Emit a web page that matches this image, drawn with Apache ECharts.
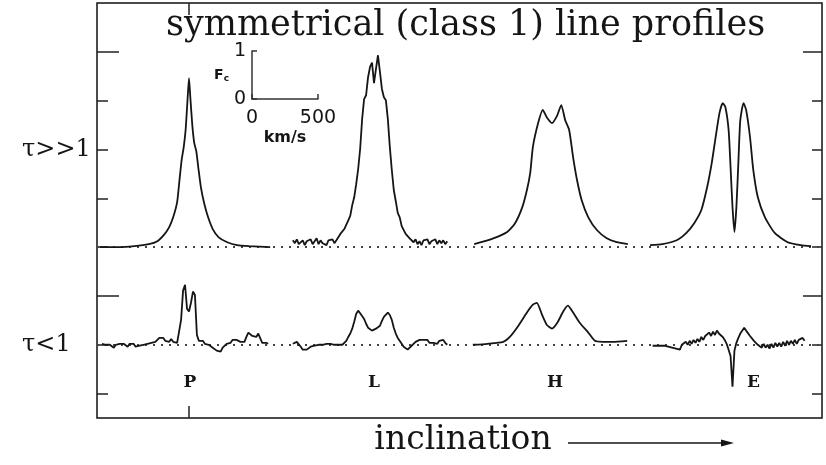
<!DOCTYPE html>
<html><head><meta charset="utf-8">
<script src="https://cdn.jsdelivr.net/npm/echarts@6/dist/echarts.min.js"></script>
<style>html,body{margin:0;padding:0;background:#fff}#c{width:826px;height:465px}</style>
</head><body><div id="c"></div>
<script>
// ---------- texts ----------
const TITLE = 'symmetrical (class 1) line profiles';
const X_NAME = 'inclination';
const CLASSES = ['P', 'L', 'H', 'E'];
const ROW_LABELS = ['τ>>1', 'τ<1'];
const SCALE_X_NAME = 'km/s';

// ---------- smooth profiles: velocity (km/s) and continuum-subtracted flux (Fc) ----------
const P_TOP_V = [-675, -530, -415, -305, -240, -190, -150, -120, -90, -70, -55, -40, -25, -10, 0, 10, 25, 40, 55, 70, 90, 115, 145, 180, 225, 290, 365, 455, 615];
const P_TOP_F = [0, 0, 0.02, 0.06, 0.12, 0.25, 0.41, 0.61, 0.92, 1.43, 1.80, 2.05, 2.42, 3.07, 3.46, 3.07, 2.50, 2.13, 1.97, 1.64, 1.23, 0.90, 0.61, 0.37, 0.20, 0.10, 0.04, 0.02, 0];

const H_TOP_V = [-590, -445, -340, -280, -225, -190, -165, -145, -105, -70, -40, 0, 40, 70, 100, 130, 160, 190, 225, 275, 340, 415, 490, 575];
const H_TOP_F = [0.06, 0.18, 0.31, 0.49, 0.82, 1.17, 1.52, 2.05, 2.54, 2.81, 2.66, 2.54, 2.70, 2.91, 2.60, 2.40, 1.84, 1.37, 0.96, 0.61, 0.35, 0.18, 0.10, 0.06];

const H_BOT_V = [-600, -490, -370, -320, -260, -190, -145, -115, -75, -40, 0, 40, 85, 120, 160, 210, 275, 325, 385, 460, 570];
const H_BOT_F = [0, 0.02, 0.06, 0.16, 0.37, 0.66, 0.82, 0.86, 0.61, 0.41, 0.33, 0.45, 0.68, 0.80, 0.66, 0.45, 0.25, 0.08, 0.06, 0.06, 0.08];

const E_TOP_V = [-635, -540, -430, -355, -295, -240, -195, -160, -130, -100, -75, -55, -30, -15, 0, 15, 30, 45, 60, 85, 105, 135, 160, 195, 250, 325, 425, 525, 605];
const E_TOP_F = [0.04, 0.06, 0.14, 0.29, 0.49, 0.76, 1.23, 1.72, 2.25, 2.75, 2.95, 2.87, 2.40, 1.64, 0.82, 0.31, 0.82, 1.72, 2.60, 2.95, 2.81, 2.25, 1.58, 1.02, 0.61, 0.29, 0.10, 0.04, 0.02];

// ---------- noisy profiles, sampled on a common velocity grid (km/s) ----------
const V_GRID = [-660, -645, -630, -615, -600, -585, -570, -555, -540, -525, -510, -495, -480, -465, -450, -435, -420, -405, -390, -375, -360, -345, -330, -315, -300, -285, -270, -255, -240, -225, -210, -195, -180, -165, -150, -135, -120, -105, -90, -75, -60, -45, -30, -15, 0, 15, 30, 45, 60, 75, 90, 105, 120, 135, 150, 165, 180, 195, 210, 225, 240, 255, 270, 285, 300, 315, 330, 345, 360, 375, 390, 405, 420, 435, 450, 465, 480, 495, 510, 525, 540, 555, 570, 585, 600];

const L_TOP_F = [null, null, null,
  0.14, 0.08, 0.16, 0.06, 0.10, 0.14, 0.04, 0.12, 0.08, 0.16,
  0.06, 0.12, 0.18, 0.06, 0.14, 0.08, 0.12, 0.04, 0.14, 0.10,
  0.16, 0.08, 0.14, 0.12, 0.27, 0.25, 0.37, 0.39, 0.55, 0.64,
  0.86, 1.02, 1.29, 1.60, 2.01, 2.62, 3.03, 3.11, 3.48, 3.69,
  3.78, 3.36, 3.65, 3.93, 3.59, 3.24, 3.07, 3.01, 2.62, 2.05,
  1.58, 1.17, 0.94, 0.70, 0.61, 0.43, 0.41, 0.27, 0.31, 0.18,
  0.20, 0.10, 0.16, 0.06, 0.12, 0.04, 0.14, 0.10, 0.16, 0.06,
  0.12, 0.08, 0.16, 0.06, 0.14, 0.08, 0.14, 0.06, 0.12,
  null, null, null];

const P_BOT_F = [
  0.02, -0.02, 0, 0.04, 0, 0.02, -0.06, 0, -0.02, 0.02,
  -0.02, 0.02, 0, -0.04, 0.02, -0.02, 0.02, -0.04, -0.04, -0.02,
  -0.04, 0, -0.02, 0.02, 0, 0.04, 0.02, 0.06, 0.08, 0.14,
  0.10, 0.14, 0.08, 0.12, 0.06, 0.12, 0.06, 0.08, 0.04, 0.06,
  0.51, 1.11, 1.23, 0.74, 0.68, 0.86, 1.09, 1.02, 0.20, 0.08,
  0.04, 0.08, 0.02, 0.04, 0, -0.02, -0.06, -0.10, -0.12, -0.16,
  -0.14, -0.06, -0.02, 0.02, 0.06, 0.04, 0.10, 0.06, 0.10, 0.10,
  0.06, 0.08, 0.06, 0.16, 0.25, 0.23, 0.18, 0.18, 0.16, 0.23,
  0.20, 0.04, 0, 0.04, 0.02];

const L_BOT_F = [null, null, null,
  0.02, 0.06, 0.06, 0.04, -0.04, -0.10, -0.14, -0.10, -0.08, -0.04,
  -0.06, -0.02, -0.04, 0, -0.04, 0, -0.04, 0.02, -0.02, 0.02,
  -0.02, 0, -0.04, 0, -0.04, 0, 0.04, 0.08, 0.16, 0.23,
  0.33, 0.47, 0.63, 0.70, 0.66, 0.59, 0.53, 0.43, 0.35, 0.33,
  0.29, 0.29, 0.33, 0.35, 0.39, 0.49, 0.57, 0.61, 0.66, 0.61,
  0.51, 0.35, 0.23, 0.14, 0.10, 0.02, -0.04, -0.08, -0.10, -0.06,
  -0.02, 0.02, 0.06, 0.04, 0.10, 0.06, 0.10, 0.06, 0.10, 0.04,
  0.08, 0.04, 0.06, 0.02, 0.08, 0.06, 0.10, 0.04, 0,
  null, null, null];

const E_BOT_F = [null, null, null,
  -0.02, -0.02, -0.02, -0.02, -0.02, -0.02, -0.02, -0.02, -0.04, -0.02,
  -0.06, -0.02, -0.08, -0.04, -0.10, 0, -0.04, 0.06, 0, 0.08,
  0.02, 0.10, 0.04, 0.12, 0.06, 0.16, 0.10, 0.18, 0.14, 0.25,
  0.18, 0.27, 0.20, 0.29, 0.23, 0.20, 0.16, 0.10, 0.02, -0.10,
  -0.23, -0.86, -0.12, 0.04, 0.14, 0.23, 0.27, 0.35, 0.29, 0.31,
  0.18, 0.20, 0.08, 0.12, 0, 0.04, -0.06, 0.02, -0.06, 0,
  -0.08, 0.02, -0.06, 0.04, -0.04, 0.04, -0.04, 0.06, -0.02, 0.08,
  0, 0.08, 0.02, 0.10, 0.02, 0.10, 0.06, 0.14, 0.08,
  null, null, null];

// ---------- layout ----------
const FRAME = {left: 97, top: 3, width: 725, height: 415};
const COL_CENTER = [189, 374, 552, 734];
const COL_HALF = 95;          // px
const V_HALF = 720;           // km/s across COL_HALF px (500 km/s = 66 px)
const INK = '#151515';

function pairs(v, f) {
  const out = [];
  for (let i = 0; i < v.length; i++) if (f[i] !== null) out.push([v[i], f[i]]);
  return out;
}

const grids = [
  {left: FRAME.left, top: FRAME.top, width: FRAME.width, height: FRAME.height, show: true,
   borderColor: '#111', borderWidth: 1.5, backgroundColor: 'transparent'}
];
COL_CENTER.forEach(c => grids.push({left: c - COL_HALF, top: FRAME.top, width: 2 * COL_HALF, height: FRAME.height}));
grids.push({left: 252, top: 51, width: 66, height: 48}); // inset scale

const hidden = {axisLine: {show: false, onZero: false}, axisTick: {show: false}, axisLabel: {show: false}, splitLine: {show: false}};

const xAxes = [
  Object.assign({}, hidden, {gridIndex: 0, type: 'value', min: 0, max: 1, name: X_NAME, nameLocation: 'middle', nameGap: 6,
    nameTextStyle: {fontFamily: 'DejaVu Serif', fontSize: 33, color: INK, padding: [0, 0, 0, 7]}})
];
const LABEL_PAD = [[0, 0, 0, 2], [0, 0, 0, 0], [0, 0, 0, 6], [0, 0, 0, 42]];
CLASSES.forEach((c, i) => {
  xAxes.push(Object.assign({}, hidden, {
    gridIndex: i + 1, type: 'value', min: -V_HALF, max: V_HALF, position: 'bottom',
    axisTick: i === 0 ? {show: true, inside: true, length: 12, customValues: [0], lineStyle: {color: '#222', width: 1.5}} : {show: false},
    name: c, nameLocation: 'middle', nameGap: -44,
    nameTextStyle: {fontFamily: 'DejaVu Serif', fontWeight: 'bold', fontSize: 17, color: INK, padding: LABEL_PAD[i]}
  }));
});
xAxes.push(Object.assign({}, hidden, {
  gridIndex: 1, type: 'value', min: -V_HALF, max: V_HALF, position: 'top',
  axisTick: {show: true, inside: true, length: 12, customValues: [0], lineStyle: {color: '#222', width: 1.5}}
}));
xAxes.push({
  gridIndex: 5, type: 'value', min: 0, max: 500, interval: 500,
  axisLine: {show: true, onZero: false, lineStyle: {color: '#333', width: 1.5}},
  axisTick: {show: true, inside: true, length: 5, lineStyle: {color: '#333', width: 1.5}},
  axisLabel: {show: true, margin: 10, fontFamily: 'DejaVu Sans', fontSize: 19, color: INK},
  splitLine: {show: false},
  name: SCALE_X_NAME, nameLocation: 'middle', nameGap: 31,
  nameTextStyle: {fontFamily: 'DejaVu Sans', fontWeight: 'bold', fontSize: 16, color: INK}
});

function frameY(pos, ticks, len, withLabels) {
  return {
    gridIndex: 0, type: 'value', position: pos, min: -1.5, max: 7,
    axisLine: {show: false, onZero: false}, splitLine: {show: false},
    axisTick: {show: true, inside: true, length: len, customValues: ticks, lineStyle: {color: '#222', width: 1.5}},
    axisLabel: withLabels ? {show: true, customValues: [4, 0], margin: 75, align: 'left',
      formatter: v => (v === 4 ? ROW_LABELS[0] : ROW_LABELS[1]),
      fontFamily: 'DejaVu Serif', fontSize: 24, color: INK} : {show: false}
  };
}
const yAxes = [
  frameY('left', [6, 1], 22, true),
  frameY('left', [5, 4, 3, 2, 0, -1], 11, false),
  frameY('right', [6, 1], 19, false),
  frameY('right', [5, 4, 3, 2, 0, -1], 10, false)
];
for (let i = 0; i < 4; i++) yAxes.push(Object.assign({}, hidden, {gridIndex: i + 1, type: 'value', min: -3.5, max: 5}));
for (let i = 0; i < 4; i++) yAxes.push(Object.assign({}, hidden, {gridIndex: i + 1, type: 'value', min: -1.5, max: 7}));
yAxes.push({
  gridIndex: 5, type: 'value', min: 0, max: 1, interval: 1,
  axisLine: {show: true, onZero: false, lineStyle: {color: '#333', width: 1.5}},
  axisTick: {show: true, inside: true, length: 5, lineStyle: {color: '#333', width: 1.5}},
  axisLabel: {show: true, margin: 6, fontFamily: 'DejaVu Sans', fontSize: 19, color: INK},
  splitLine: {show: false},
  name: '{F|F}{c|c}', nameLocation: 'middle', nameRotate: 0, nameGap: 16,
  nameTextStyle: {rich: {
    F: {fontFamily: 'DejaVu Sans', fontWeight: 'bold', fontSize: 14, color: INK},
    c: {fontFamily: 'DejaVu Sans', fontWeight: 'bold', fontSize: 9, color: INK, verticalAlign: 'bottom', padding: [7, 0, 0, 0]}
  }}
});

function profile(data, xi, yi, smooth) {
  return {type: 'line', xAxisIndex: xi, yAxisIndex: yi, data: data, symbol: 'none', showSymbol: false,
    smooth: smooth ? 0.2 : false, silent: true, z: 5,
    lineStyle: {color: INK, width: 1.8}};
}

const series = [
  {type: 'line', xAxisIndex: 0, yAxisIndex: 0, data: [], silent: true, z: 1,
   markLine: {silent: true, symbol: 'none', label: {show: false},
     lineStyle: {type: [2, 6], color: '#444', width: 2},
     data: [{yAxis: 2}, {yAxis: 0}]}},
  profile(pairs(P_TOP_V, P_TOP_F), 1, 4, true),
  profile(pairs(V_GRID, L_TOP_F), 2, 5, false),
  profile(pairs(H_TOP_V, H_TOP_F), 3, 6, true),
  profile(pairs(E_TOP_V, E_TOP_F), 4, 7, true),
  profile(pairs(V_GRID, P_BOT_F), 1, 8, false),
  profile(pairs(V_GRID, L_BOT_F), 2, 9, false),
  profile(pairs(H_BOT_V, H_BOT_F), 3, 10, true),
  profile(pairs(V_GRID, E_BOT_F), 4, 11, false),
  {type: 'line', xAxisIndex: 6, yAxisIndex: 12, data: [], silent: true}
];

const chart = echarts.init(document.getElementById('c'), null, {renderer: 'canvas'});
chart.setOption({
  animation: false,
  backgroundColor: '#fff',
  title: {text: TITLE, left: 166, top: 8, padding: 0,
    textStyle: {fontFamily: 'DejaVu Serif', fontSize: 35, fontWeight: 'normal', color: INK}},
  grid: grids,
  xAxis: xAxes,
  yAxis: yAxes,
  series: series,
  graphic: [
    {type: 'line', shape: {x1: 568, y1: 443, x2: 726, y2: 443}, style: {stroke: INK, lineWidth: 1.6}},
    {type: 'polygon', shape: {points: [[721, 439.5], [734, 443], [721, 446.5]]}, style: {fill: INK}}
  ]
});
</script>
</body></html>
